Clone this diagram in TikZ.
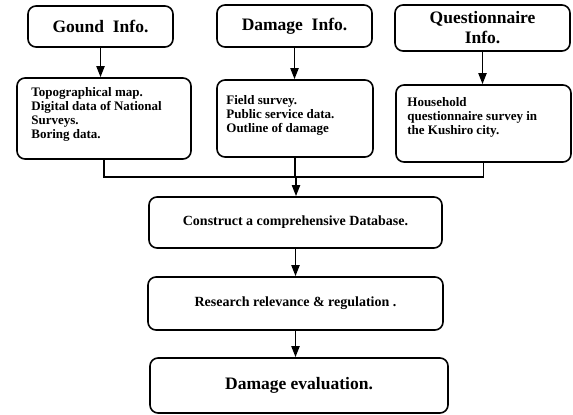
\documentclass[tikz,border=0pt]{standalone}
\usepackage{fontspec}
\setmainfont{Liberation Serif}
\usetikzlibrary{arrows.meta,positioning}
\tikzset{
  infobox/.style={draw,line width=1.6pt,rounded corners=8pt,align=center,font=\bfseries\fontsize{17.5}{20}\selectfont},
  databox/.style={draw,line width=1.6pt,rounded corners=8pt},
  listtext/.style={anchor=north west,inner sep=0pt,align=left,font=\bfseries\fontsize{13}{14}\selectfont},
  stepbox/.style={draw,line width=1.6pt,rounded corners=8pt,font=\bfseries\fontsize{14}{16}\selectfont},
  link/.style={line width=1.8pt},
  flow/.style={line width=1.8pt,-{Triangle[length=11pt,width=8pt]}}
}
\begin{document}
\begin{tikzpicture}[x=1pt,y=-1pt]
\useasboundingbox (0,0) rectangle (573,415);
% sources
\node[infobox,minimum width=145pt,minimum height=41pt] (ground) at (100.5,26.5) {Gound\ \ Info.};
\node[infobox,minimum width=155pt,minimum height=42pt] (damage) at (294.5,26) {Damage\ \ Info.};
\node[infobox,minimum width=175pt,minimum height=46pt] (quest) at (482.5,28) {Questionnaire\\Info.};
% data boxes
\node[databox,minimum width=174pt,minimum height=81pt] (gdata) at (104,118.5) {};
\node[databox,minimum width=156pt,minimum height=77pt] (ddata) at (295,118.5) {};
\node[databox,minimum width=175pt,minimum height=77pt] (qdata) at (483.5,123.5) {};
\node[listtext] (gtext) at ([xshift=15,yshift=-10]gdata.north west) {Topographical map.\\Digital data of National\\Surveys.\\Boring data.};
\node[listtext] (dtext) at ([xshift=10,yshift=-16]ddata.north west) {Field survey.\\Public service data.\\Outline of damage};
\node[listtext] (qtext) at ([xshift=12,yshift=-13]qdata.north west) {Household\\questionnaire survey in\\the Kushiro city.};
% steps
\node[stepbox,minimum width=293pt,minimum height=51pt] (db) at (295.5,222.5) {Construct a comprehensive Database.};
\node[stepbox,minimum width=295pt,minimum height=53pt] (research) at (295.5,303.5) {Research relevance \& regulation .};
\node[stepbox,minimum width=298pt,minimum height=55pt,font=\bfseries\fontsize{17.5}{20}\selectfont] (eval) at (299,385.5) {Damage evaluation.};
\coordinate (join) at (296,177);
\foreach \a/\b in {ground/gdata,damage/ddata,quest/qdata}{\draw[flow] (\a.south) -- (\a.south |- \b.north);}
\draw[link] (gdata.south) |- (join) -| (qdata.south);
\draw[link] (ddata.south) -- (ddata.south |- join);
\draw[flow] (join) -- (join |- db.north);
\draw[flow] (db.south) -- (db.south |- research.north);
\draw[flow] (research.south) -- (research.south |- eval.north);
\end{tikzpicture}
\end{document}
